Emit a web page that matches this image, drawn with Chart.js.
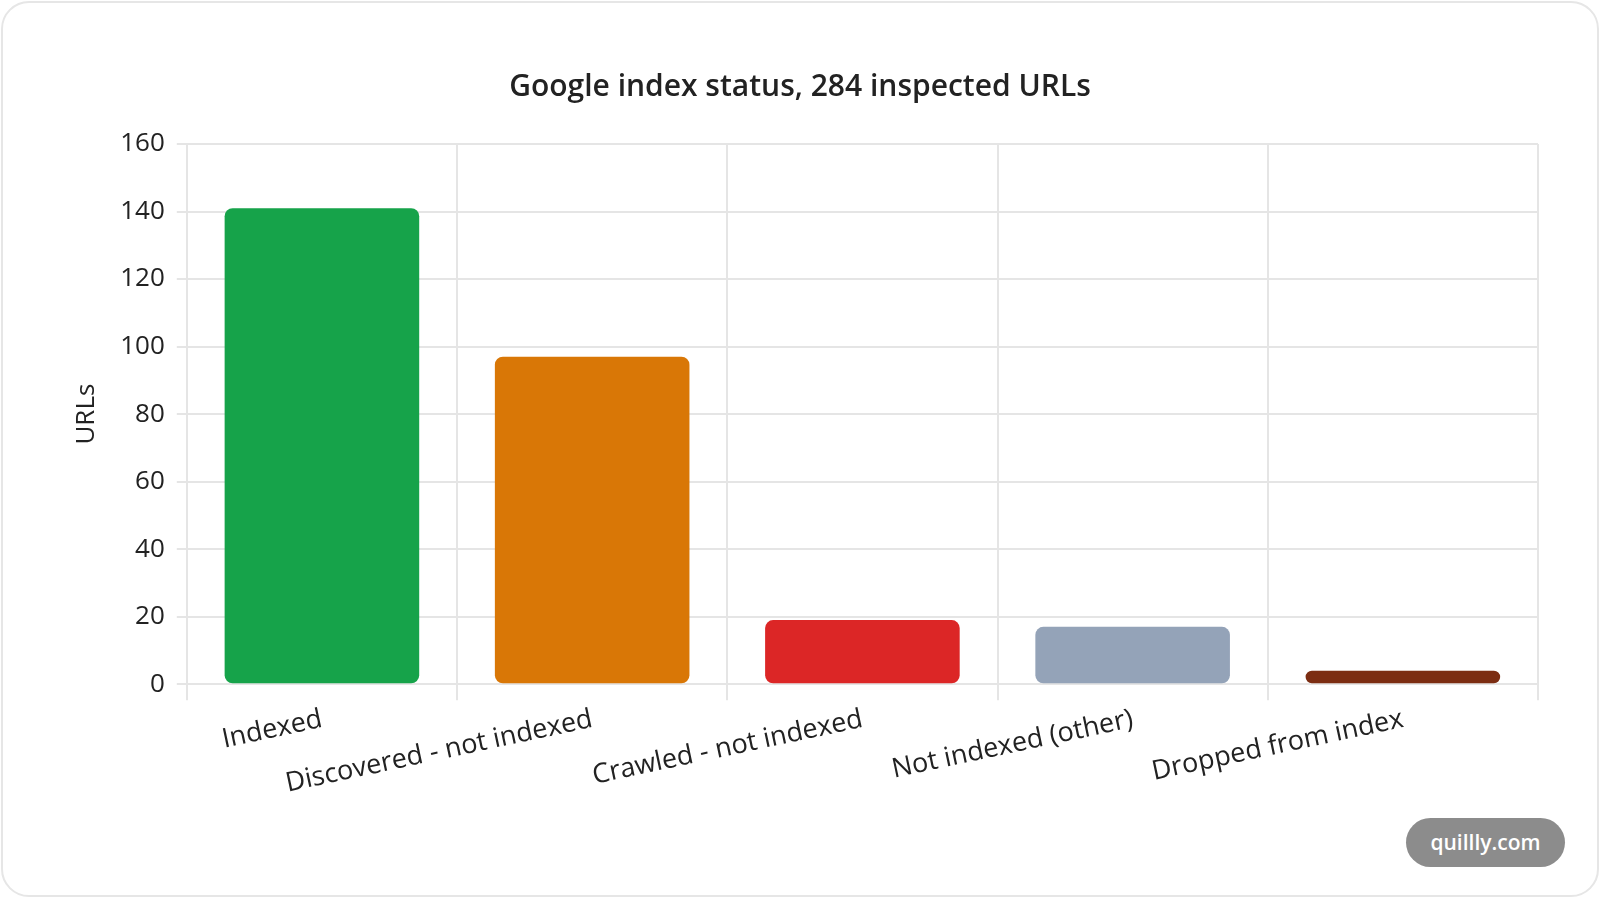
<!DOCTYPE html>
<html>
<head>
<meta charset="utf-8">
<script src="https://cdn.jsdelivr.net/npm/chart.js@4.4.1/dist/chart.umd.min.js"></script>
<style>
  html, body { margin: 0; padding: 0; background: #fff; }
  body { width: 1600px; height: 898px; overflow: hidden; font-family: "Open Sans", "Noto Sans", sans-serif; }
  .card {
    position: absolute; left: 1px; top: 1px; width: 1594px; height: 892px;
    border: 2px solid #e6e6e6; border-radius: 28px; background: #fff;
  }
  .wrap { position: absolute; left: 59px; top: 50px; width: 1477px; height: 750px; }
  .badge {
    position: absolute; left: 1406px; top: 818px; width: 159px; height: 49px;
    border-radius: 25px; background: #8c8c8c; color: #fff;
    font: 600 21px "Open Sans", sans-serif; line-height: 49px; text-align: center;
  }
</style>
</head>
<body>
<div class="card">
  <div class="wrap"><canvas id="chart"></canvas></div>
</div>
<div class="badge">quillly.com</div>
<script>
// data
const categories = ['Indexed', 'Discovered - not indexed', 'Crawled - not indexed', 'Not indexed (other)', 'Dropped from index'];
const urlCounts = [141, 97, 19, 17, 4];
const barColors = ['#16a34a', '#d97706', '#dc2626', '#94a3b8', '#7c2d12'];
const yTicks = [0, 20, 40, 60, 80, 100, 120, 140, 160];

const gridColor = '#e5e5e5';
const textColor = '#222';

const ctx = document.getElementById('chart');
new Chart(ctx, {
    type: 'bar',
    data: {
        labels: categories,
        datasets: [{
            label: 'URLs',
            data: urlCounts,
            backgroundColor: barColors,
            borderRadius: 8,
            borderSkipped: false
        }]
    },
    options: {
        responsive: true,
        maintainAspectRatio: false,
        animation: false,
        layout: { padding: { left: 0, right: 1, top: 0, bottom: 0 } },
        plugins: {
            legend: { display: false },
            tooltip: { enabled: false },
            title: {
                display: true,
                text: 'Google index status, 284 inspected URLs',
                color: textColor,
                font: { family: 'Open Sans', size: 30, weight: '600' },
                padding: { top: 16, bottom: 39 }
            }
        },
        scales: {
            x: {
                grid: { color: gridColor, lineWidth: 2, tickLength: 16 },
                border: { color: gridColor, width: 2 },
                ticks: {
                    color: textColor,
                    font: { family: 'Open Sans', size: 27 },
                    minRotation: 12,
                    maxRotation: 12
                }
            },
            y: {
                min: 0,
                max: yTicks[yTicks.length - 1],
                afterBuildTicks: axis => { axis.ticks = yTicks.map(v => ({ value: v })); },
                grid: { color: gridColor, lineWidth: 2, tickLength: 10 },
                border: { color: gridColor, width: 2 },
                ticks: {
                    color: textColor,
                    font: { family: 'Open Sans', size: 26 },
                    padding: 12
                },
                title: {
                    display: true,
                    text: 'URLs',
                    color: textColor,
                    font: { family: 'Open Sans', size: 26 },
                    padding: { top: 9, bottom: 6 }
                }
            }
        }
    }
});
</script>
</body>
</html>
